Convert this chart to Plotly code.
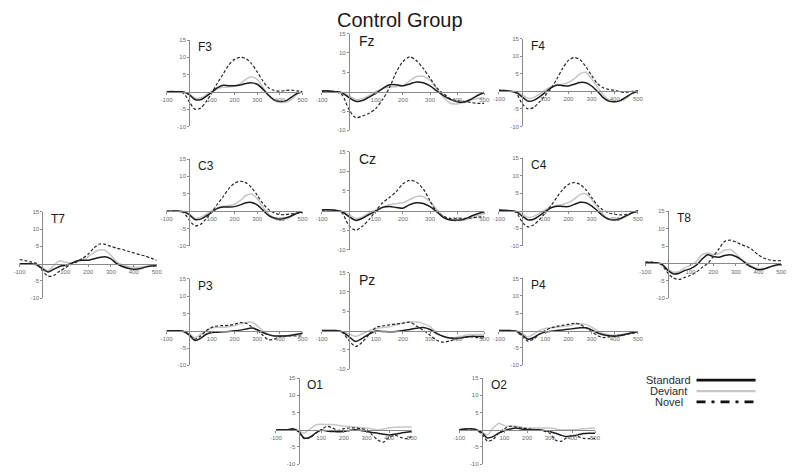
import plotly.graph_objects as go

# ---------------- data ----------------
TIME_MS = list(range(-100, 501, 25))
X_TICKS = [-100, 100, 200, 300, 400, 500]
Y_TICKS = [-10, -5, 5, 10, 15]
ELECTRODES = ["F3", "Fz", "F4", "C3", "Cz", "C4", "T7", "T8", "P3", "Pz", "P4", "O1", "O2"]
CONDITIONS = ["Standard", "Deviant", "Novel"]
TITLE = "Control Group"

STANDARD = {
    "F3": [0, 0.1, 0, 0, -0.8, -2.2, -2.3, -1.3, -0.1, 1.2, 1.9, 1.8, 1.8, 2.0, 2.4, 2.6, 2.2, 0.8, -1.0, -2.3, -2.8, -2.6, -1.6, -0.5, 0],
    "Fz": [0.2, 0.2, 0, -0.3, -1.5, -2.5, -2.3, -1.4, -0.4, 0.8, 1.8, 1.8, 1.5, 2.0, 2.5, 2.3, 1.5, 0.2, -1.0, -2.0, -2.6, -2.7, -2.0, -1.0, -0.2],
    "F4": [0.3, 0.2, 0, -0.3, -1.6, -2.8, -2.6, -1.6, -0.3, 1.0, 1.8, 1.6, 1.5, 2.0, 2.5, 2.4, 1.5, 0.0, -1.8, -2.8, -3.0, -2.6, -1.6, -0.6, 0],
    "C3": [0, 0, 0, -0.2, -1.0, -2.4, -2.3, -1.4, -0.3, 0.8, 1.2, 1.2, 1.3, 1.8, 2.4, 2.5, 1.8, 0.3, -1.2, -2.0, -2.3, -2.0, -1.4, -0.6, -0.2],
    "Cz": [0.2, 0.2, 0.1, -0.3, -1.5, -2.5, -2.0, -1.0, -0.1, 0.8, 1.0, 0.8, 0.6, 1.5, 2.0, 1.8, 1.0, -0.3, -1.8, -2.4, -2.5, -2.2, -1.5, -0.8, -0.3],
    "C4": [0.2, 0.1, 0, -0.3, -1.5, -2.6, -2.4, -1.4, -0.2, 0.8, 1.3, 1.2, 1.2, 1.8, 2.4, 2.3, 1.4, 0, -1.5, -2.4, -2.6, -2.2, -1.4, -0.6, 0],
    "T7": [0, 0, 0, -0.3, -1.5, -2.4, -1.6, -0.8, -0.5, 0, 0.8, 1.0, 1.0, 1.4, 1.8, 2.0, 1.4, 0, -0.8, -1.3, -1.6, -1.5, -1.0, -0.7, -0.5],
    "T8": [0.3, 0.3, 0.2, -0.3, -2.0, -3.0, -2.8, -2.0, -1.5, -0.5, 1.2, 2.5, 2.0, 1.8, 2.3, 2.5, 2.0, 1.0, -0.3, -1.2, -1.8, -1.6, -1.0, -0.5, -0.3],
    "P3": [0, 0, 0, -0.2, -1.2, -2.8, -2.2, -1.0, -0.5, -0.4, -0.3, -0.2, 0, 0.2, 0.5, 0.8, 0.3, -0.5, -1.1, -1.5, -1.5, -1.5, -1.3, -1.0, -0.7],
    "Pz": [0, 0, 0, -0.3, -1.5, -2.8, -2.0, -0.9, -0.1, -0.2, -0.3, -0.2, 0, 0.3, 0.6, 0.8, 0.3, -0.8, -1.5, -1.9, -2.0, -1.7, -1.5, -1.5, -1.5],
    "P4": [0, 0, 0, -0.2, -1.2, -2.5, -2.0, -1.0, -0.4, -0.2, 0, 0.2, 0.4, 0.6, 0.8, 0.8, 0.2, -0.6, -1.2, -1.5, -1.6, -1.4, -1.0, -0.6, -0.3],
    "O1": [0, 0, 0, 0.2, -0.5, -2.4, -2.2, -1.0, -0.1, -0.4, -0.5, -0.6, -0.5, -0.2, 0, -0.2, -0.5, -0.8, -1.0, -1.3, -1.5, -1.3, -1.0, -0.7, -0.5],
    "O2": [0, 0.2, 0.3, 0, -0.8, -2.4, -2.0, -1.0, -0.3, 0.2, 0.5, 0.2, 0, 0, 0, -0.2, -0.5, -1.0, -1.6, -2.0, -1.8, -1.5, -1.1, -1.0, -1.0],
}

DEVIANT = {
    "F3": [0, 0, 0.1, 0, -0.6, -1.8, -1.8, -0.9, 0.1, 0.9, 1.3, 1.4, 1.7, 2.4, 3.6, 4.4, 3.6, 1.4, -0.9, -2.5, -3.0, -3.0, -2.3, -0.7, 0],
    "Fz": [0.1, 0.2, 0, -0.2, -1.0, -2.0, -1.8, -1.0, 0, 0.8, 1.2, 1.3, 1.6, 2.8, 3.9, 4.0, 3.0, 0.8, -1.5, -3.0, -3.2, -2.8, -2.2, -1.8, -1.5],
    "F4": [0.2, 0.1, 0, -0.2, -1.0, -2.0, -1.8, -0.8, 0.4, 1.2, 1.6, 2.0, 2.5, 3.5, 5.0, 5.4, 3.5, 1.2, -1.0, -2.5, -3.0, -2.8, -2.0, -0.6, 0],
    "C3": [0, 0, 0, -0.1, -0.8, -2.0, -1.8, -0.9, 0.2, 1.0, 1.4, 1.6, 2.0, 3.0, 4.5, 4.9, 3.6, 1.2, -0.8, -2.0, -2.5, -2.3, -1.6, -0.7, -0.2],
    "Cz": [0.1, 0.1, 0, -0.2, -1.0, -2.0, -1.6, -0.6, 0.1, 0.9, 1.5, 1.8, 2.0, 2.8, 3.6, 3.5, 2.2, 0.3, -1.5, -2.4, -2.5, -2.5, -2.0, -1.3, -0.8],
    "C4": [0.1, 0.1, 0, -0.2, -0.9, -1.9, -1.6, -0.7, 0.3, 1.0, 1.5, 1.8, 2.3, 3.3, 4.6, 4.8, 3.2, 1.0, -1.0, -2.3, -2.6, -2.4, -1.6, -0.6, 0],
    "T7": [0, 0, 0, -0.2, -1.2, -2.0, -0.5, 0.8, 0.4, 0.2, 0.5, 1.2, 2.0, 3.2, 4.0, 3.8, 2.4, 0.5, -0.4, -0.8, -1.0, -1.0, -0.9, -0.7, -0.5],
    "T8": [0.2, 0.2, 0.1, -0.2, -1.6, -2.5, -2.3, -1.2, -0.5, 0.5, 2.5, 3.0, 2.6, 2.8, 3.8, 4.0, 2.8, 1.2, 0, -1.0, -1.5, -1.4, -1.0, -0.6, -0.3],
    "P3": [0, 0, 0, -0.1, -0.8, -2.0, -1.0, 0, 0.9, 1.0, 1.0, 1.2, 1.5, 2.0, 2.4, 2.5, 1.5, 0, -1.0, -1.4, -1.5, -1.5, -1.4, -1.2, -1.0],
    "Pz": [0, 0, 0, -0.2, -0.8, -1.5, -0.8, 0, 0.5, 0.8, 1.0, 1.5, 2.0, 2.2, 2.3, 1.8, 1.0, -0.5, -1.5, -2.0, -1.7, -1.3, -1.0, -1.0, -1.0],
    "P4": [0, 0, 0, -0.1, -0.8, -1.8, -1.0, 0, 0.6, 0.8, 1.0, 1.2, 1.4, 1.8, 2.0, 1.8, 1.0, 0, -0.8, -1.2, -1.3, -1.2, -1.0, -0.6, -0.3],
    "O1": [0, 0, 0, 0.2, -0.3, -1.0, 0.2, 1.4, 1.6, 1.5, 1.5, 1.3, 1.0, 0.9, 0.8, 0.6, 0.5, 0.2, 0, 0.2, 0.5, 0.7, 0.8, 0.8, 0.8],
    "O2": [0, 0.2, 0.3, 0, -0.6, -1.5, 0.5, 1.8, 1.2, 1.0, 1.0, 0.8, 0.5, 0.5, 0.5, 0.5, 0.5, 0.3, 0, 0, 0, 0.1, 0.3, 0.4, 0.5],
}

NOVEL = {
    "F3": [0, 0, 0, -0.4, -2.8, -5.0, -4.7, -2.8, -0.3, 2.6, 5.2, 7.8, 9.4, 10.0, 9.6, 8.2, 5.8, 3.2, 1.2, 0.4, 0.2, 0.4, 0.5, 0.3, 0.1],
    "Fz": [0, 0.1, 0, -0.8, -4.5, -6.7, -6.3, -5.6, -4.3, -2.0, 1.0, 5.0, 7.8, 9.0, 8.0, 6.0, 3.5, 1.0, -0.5, -1.8, -2.3, -2.5, -2.8, -3.0, -3.0],
    "F4": [0.2, 0.1, 0, -0.6, -3.5, -5.0, -4.6, -3.0, -1.2, 0.8, 3.5, 6.5, 8.8, 9.6, 9.0, 7.0, 4.5, 2.2, 1.0, 0.5, 0.3, -0.2, -0.3, 0, 0.2],
    "C3": [0, 0, 0, -0.4, -2.5, -4.2, -3.8, -2.2, -0.2, 2.0, 4.2, 6.5, 8.0, 8.6, 8.2, 6.8, 4.6, 2.2, 0.5, -0.5, -1.0, -1.0, -0.8, -0.6, -0.4],
    "Cz": [0.1, 0.2, 0, -0.6, -3.8, -5.0, -4.0, -2.3, 0, 2.0, 3.3, 4.8, 6.8, 7.7, 7.2, 5.5, 2.5, -0.3, -1.5, -2.0, -2.1, -2.0, -1.9, -1.7, -1.5],
    "C4": [0.1, 0.1, 0, -0.5, -3.2, -4.6, -4.0, -2.5, -0.6, 1.5, 3.8, 6.0, 7.5, 8.0, 7.5, 6.0, 3.8, 1.6, 0.2, -0.6, -1.0, -1.2, -1.0, -0.6, -0.3],
    "T7": [1.2, 0.9, 0.5, 0, -2.0, -3.6, -3.4, -2.2, -1.2, -0.2, 0.5, 1.5, 2.7, 4.5, 5.7, 5.6, 5.0, 4.5, 4.1, 3.6, 3.1, 2.6, 2.2, 1.6, 1.0],
    "T8": [0.4, 0.4, 0.2, -0.5, -2.8, -4.2, -4.6, -4.0, -3.4, -2.5, -1.2, 0, 2.0, 4.2, 6.3, 6.7, 6.2, 5.4, 4.8, 3.8, 2.4, 1.5, 1.0, 0.8, 0.8],
    "P3": [0, 0, 0, -0.2, -1.2, -2.4, -1.5, 0, 1.0, 1.4, 1.5, 1.6, 1.9, 2.4, 2.2, 1.2, 0.2, -1.3, -2.6, -2.4, -1.7, -1.5, -1.5, -1.5, -1.5],
    "Pz": [0, 0, 0, -0.4, -2.5, -4.1, -3.0, -1.0, 0.8, 1.2, 1.5, 1.7, 1.9, 2.2, 1.2, 0.1, -1.2, -2.5, -3.0, -2.6, -2.1, -1.8, -1.6, -1.8, -2.0],
    "P4": [0, 0, 0, -0.3, -1.6, -3.0, -2.4, -1.0, 0, 0.8, 1.2, 1.5, 1.8, 2.1, 1.8, 0.8, -0.3, -1.4, -2.0, -1.8, -1.5, -1.3, -1.1, -0.8, -0.5],
    "O1": [0, 0, 0, 0.3, -0.6, -2.6, -2.3, -1.0, 0, 1.0, 0.5, -0.2, 0.3, 0.5, 0.5, 0.3, 0, -1.5, -3.0, -3.6, -2.2, -1.6, -2.2, -2.6, -2.0],
    "O2": [0, 0.2, 0.3, 0, -1.2, -3.3, -2.8, -1.0, 0.3, 1.0, 0.8, 0.5, 0.3, 0.1, 0, -0.4, -1.0, -3.0, -3.4, -2.3, -1.6, -2.0, -2.5, -2.6, -2.5],
}

# ---------------- layout ----------------
W, H = 800, 475
X_RANGE = [-100, 500]
Y_RANGE = [-10, 15]
# pixel boxes: x at -100 ms, x at 500 ms, y at +15, y at -10
PANEL_BOX = {
    "F3": (163, 301, 37.5, 125),
    "Fz": (320.5, 485.5, 31, 129),
    "F4": (500.5, 641.5, 36, 125),
    "C3": (163, 301, 158, 246),
    "Cz": (320.5, 485.5, 150.5, 250),
    "C4": (500.5, 641.5, 157, 246),
    "T7": (13.7, 153, 211.5, 299),
    "T8": (649, 787, 211, 299),
    "P3": (163, 301, 279.5, 367),
    "Pz": (320.5, 485.5, 273, 371),
    "P4": (500.5, 641.5, 279, 367),
    "O1": (274, 412, 380, 467),
    "O2": (460, 598, 380, 467),
}
BIG = {"Fz", "Cz", "Pz"}


def fx(px):
    return px / W


def fy(py):
    return 1 - py / H


STYLE = {
    "Standard": dict(color="#1c1c1c", width=1.5, dash="solid"),
    "Deviant": dict(color="#c6c6c6", width=1.5, dash="solid"),
    "Novel": dict(color="#262626", width=1.2, dash="3px,2px"),
}
SERIES = {"Standard": STANDARD, "Deviant": DEVIANT, "Novel": NOVEL}
DRAW_ORDER = ["Deviant", "Standard", "Novel"]
FONT = "Liberation Sans, Arial"

fig = go.Figure()
annotations = []
layout_axes = {}

for i, name in enumerate(ELECTRODES, start=1):
    xa, xb, ya, yb = PANEL_BOX[name]
    xdom = [fx(xa), fx(xb)]
    ydom = [fy(yb), fy(ya)]
    x0_frac = xdom[0] + (0 - X_RANGE[0]) / (X_RANGE[1] - X_RANGE[0]) * (xdom[1] - xdom[0])
    y0_frac = ydom[0] + (0 - Y_RANGE[0]) / (Y_RANGE[1] - Y_RANGE[0]) * (ydom[1] - ydom[0])
    sx = "" if i == 1 else str(i)
    axis_common = dict(showgrid=False, zeroline=False, showline=True, linecolor="#8a8a8a",
                       linewidth=1, ticks="outside", ticklen=2, tickwidth=1, tickcolor="#8a8a8a",
                       tickfont=dict(size=6, color="#6a6a6a", family=FONT),
                       anchor="free", fixedrange=True)
    layout_axes["xaxis" + sx] = dict(axis_common, domain=xdom, range=X_RANGE, position=y0_frac,
                                     tickvals=X_TICKS, ticktext=[str(v) for v in X_TICKS])
    layout_axes["yaxis" + sx] = dict(axis_common, domain=ydom, range=Y_RANGE, position=x0_frac,
                                     tickvals=Y_TICKS, ticktext=[str(v) for v in Y_TICKS])
    for cond in DRAW_ORDER:
        st = STYLE[cond]
        fig.add_trace(go.Scatter(
            x=TIME_MS, y=SERIES[cond][name], mode="lines",
            line=dict(color=st["color"], width=st["width"], dash=st["dash"], shape="spline", smoothing=0.8),
            xaxis="x" + sx, yaxis="y" + sx, showlegend=False, hoverinfo="skip"))
    annotations.append(dict(
        x=30, y=13, xref="x" + sx, yref="y" + sx, text=name, showarrow=False,
        xanchor="left", yanchor="middle",
        font=dict(size=14 if name in BIG else 12, color="#1a1a1a", family=FONT)))

annotations.append(dict(x=fx(400), y=fy(17), xref="paper", yref="paper", text=TITLE,
                        showarrow=False, xanchor="center", yanchor="middle",
                        font=dict(size=20, color="#1a1a1a", family=FONT)))

# legend
LEG_Y = [382, 393, 404]
LEG_LINE = dict(Standard=dict(color="#111111", width=2.6, dash="solid"),
                Deviant=dict(color="#c6c6c6", width=2.2, dash="solid"),
                Novel=dict(color="#111111", width=2.6, dash="9px,6px,3px,6px"))
shapes = []
for cond, ly in zip(CONDITIONS, LEG_Y):
    annotations.append(dict(x=fx(673), y=fy(ly), xref="paper", yref="paper", text=cond,
                            showarrow=False, xanchor="center", yanchor="middle",
                            font=dict(size=11, color="#2a2a2a", family=FONT)))
    shapes.append(dict(type="line", xref="paper", yref="paper", x0=fx(701), x1=fx(761),
                       y0=fy(ly), y1=fy(ly), line=LEG_LINE[cond]))

fig.update_layout(width=W, height=H, margin=dict(l=0, r=0, t=0, b=0),
                  paper_bgcolor="white", plot_bgcolor="white", showlegend=False,
                  hovermode=False,
                  annotations=annotations, shapes=shapes, **layout_axes)

# remove the default 8px page margin so the figure fills the 800x475 window exactly
fig.write_html("out.html", config={"displayModeBar": False, "staticPlot": True},
               post_script="document.body.style.margin='0px';")
